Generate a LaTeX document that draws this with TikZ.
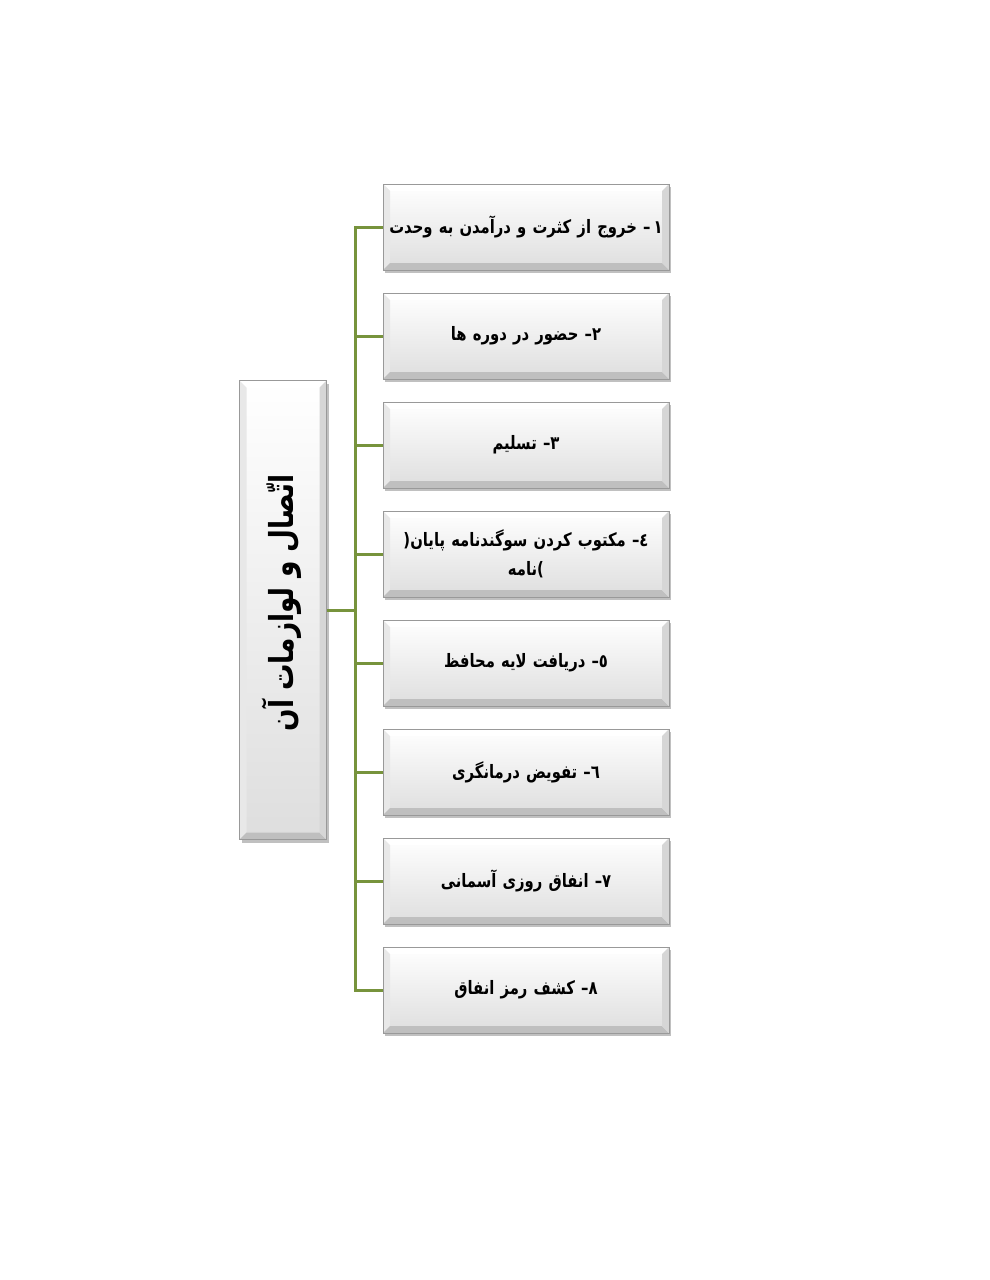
\documentclass[tikz,border=0pt]{standalone}
\usepackage{fontspec}
\usepackage{graphicx}
\usetikzlibrary{shadows}
\TeXXeTstate=1
\newfontfamily\arabicfont[Script=Arabic, FakeStretch=0.8]{DejaVu Sans}
\definecolor{conngreen}{HTML}{77933C}
\begin{document}
\begin{tikzpicture}[x=1pt,y=-1pt,
  bevelbox/.style={
    rectangle, draw=black!40, line width=0.6pt,
    top color=white, bottom color=black!13,
    drop shadow={shadow xshift=2pt, shadow yshift=-3pt, opacity=0.35, fill=black!70},
    inner sep=0pt,
    path picture={
      \path (path picture bounding box.north west) coordinate (bvNW)
            (path picture bounding box.north east) coordinate (bvNE)
            (path picture bounding box.south west) coordinate (bvSW)
            (path picture bounding box.south east) coordinate (bvSE);
      \fill[white] (bvNW) -- (bvNE) -- ([shift={(-7pt,-7pt)}]bvNE) -- ([shift={(7pt,-7pt)}]bvNW) -- cycle;
      \fill[black!9] (bvNW) -- ([shift={(7pt,-7pt)}]bvNW) -- ([shift={(7pt,7pt)}]bvSW) -- (bvSW) -- cycle;
      \fill[black!25] (bvSW) -- ([shift={(7pt,7pt)}]bvSW) -- ([shift={(-7pt,7pt)}]bvSE) -- (bvSE) -- cycle;
      \fill[black!16] (bvSE) -- ([shift={(-7pt,7pt)}]bvSE) -- ([shift={(-7pt,-7pt)}]bvNE) -- (bvNE) -- cycle;
    }},
  itembox/.style={bevelbox, minimum width=286pt, minimum height=86pt,
    text width=280pt, align=center,
    font=\arabicfont\bfseries\fontsize{18.5}{29}\selectfont},
  titlebox/.style={bevelbox, minimum width=87pt, minimum height=459pt},
  titletext/.style={rotate=90, font=\arabicfont\bfseries\fontsize{33}{38}\selectfont},
  conn/.style={draw=conngreen, line width=3pt, line join=miter}
]
\fill[white] (0,0) rectangle (989,1280);

\node[titlebox] (L) at (283,610) {};
\node[titletext] (Lt) at (282,603) {\beginR اتّصال و لوازمات آن\endR};

\node[itembox] (b1) at (526,227) {\beginR\mbox{١}\mbox{\,–} خروج از کثرت و درآمدن به وحدت\endR};
\node[itembox] (b2) at (526,336) {\beginR\mbox{٢}\mbox{–} حضور در دوره ها\endR};
\node[itembox] (b3) at (526,445) {\beginR\mbox{٣}\mbox{–} تسلیم\endR};
\node[itembox] (b4) at (526,554) {\beginR\mbox{٤}\mbox{–} مکتوب کردن سوگندنامه پایان\mbox{(}\endR\\\beginR\mbox{)}نامه\endR};
\node[itembox] (b5) at (526,663) {\beginR\mbox{٥}\mbox{–} دریافت لایه محافظ\endR};
\node[itembox] (b6) at (526,772) {\beginR\mbox{٦}\mbox{–} تفویض درمانگری\endR};
\node[itembox] (b7) at (526,881) {\beginR\mbox{٧}\mbox{–} انفاق روزی آسمانی\endR};
\node[itembox] (b8) at (526,990) {\beginR\mbox{٨}\mbox{–} کشف رمز انفاق\endR};

\coordinate (tr) at (355,610);
\draw[conn] (b1.west) -- (b1.west -| tr) -- (b8.west -| tr) -- (b8.west);
\foreach \b in {b2,b3,b4,b5,b6,b7}{
  \draw[conn] (\b.west) -- (\b.west -| tr);
}
\draw[conn] (L.east) -- (L.east -| tr);
\end{tikzpicture}
\end{document}
